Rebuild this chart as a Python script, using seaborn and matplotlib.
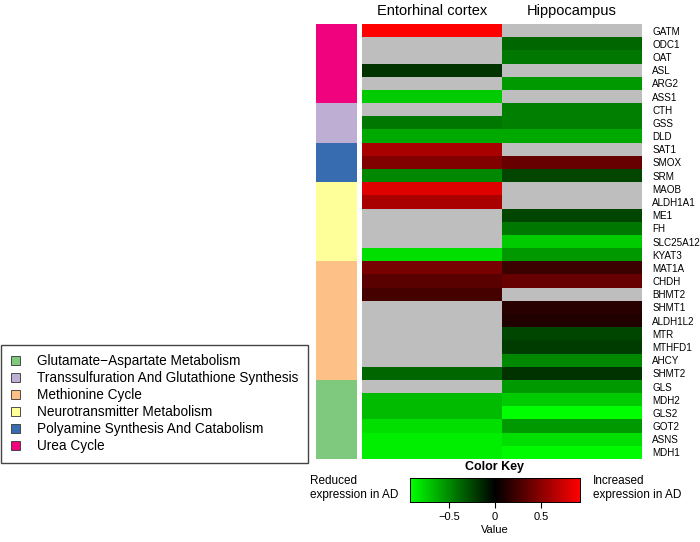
import numpy as np
import pandas as pd
import matplotlib
matplotlib.use('Agg')
import matplotlib.pyplot as plt
from matplotlib.colors import LinearSegmentedColormap, ListedColormap
from matplotlib.patches import Patch
import seaborn as sns

plt.rcParams['font.family'] = ['Liberation Sans', 'DejaVu Sans']

genes = ['GATM', 'ODC1', 'OAT', 'ASL', 'ARG2', 'ASS1', 'CTH', 'GSS', 'DLD',
         'SAT1', 'SMOX', 'SRM', 'MAOB', 'ALDH1A1', 'ME1', 'FH', 'SLC25A12', 'KYAT3',
         'MAT1A', 'CHDH', 'BHMT2', 'SHMT1', 'ALDH1L2', 'MTR', 'MTHFD1', 'AHCY', 'SHMT2',
         'GLS', 'MDH2', 'GLS2', 'GOT2', 'ASNS', 'MDH1']

nan = np.nan
entorhinal = [0.92, nan, nan, -0.18, nan, -0.73, nan, -0.43, -0.61,
              0.61, 0.46, -0.49, 0.80, 0.61, nan, nan, nan, -0.80,
              0.43, 0.32, 0.25, nan, nan, nan, nan, nan, -0.37,
              nan, -0.67, -0.67, -0.80, -0.86, -0.86]
hippocampus = [nan, -0.37, -0.43, nan, -0.55, nan, -0.46, -0.46, -0.61,
               nan, 0.37, -0.25, nan, nan, -0.25, -0.43, -0.73, -0.55,
               0.21, 0.37, nan, 0.15, 0.12, -0.25, -0.21, -0.49, -0.18,
               -0.55, -0.73, -0.92, -0.55, -0.80, -0.90]

pathways = ['Glutamate\u2212Aspartate Metabolism',
            'Transsulfuration And Glutathione Synthesis',
            'Methionine Cycle',
            'Neurotransmitter Metabolism',
            'Polyamine Synthesis And Catabolism',
            'Urea Cycle']
pathway_colors = ['#7FC97F', '#BEAED4', '#FDC086', '#FFFF99', '#386CB0', '#F0027F']
gene_pathway = [5] * 6 + [1] * 3 + [4] * 3 + [3] * 6 + [2] * 9 + [0] * 6

df = pd.DataFrame({'Entorhinal cortex': entorhinal, 'Hippocampus': hippocampus}, index=genes)

cmap = LinearSegmentedColormap.from_list('greenred', ['#00FF00', '#000000', '#FF0000'])

fig = plt.figure(figsize=(7, 5.42), dpi=100)

ax = fig.add_axes([0.517, 0.1531, 0.4, 0.8026])
cax = fig.add_axes([0.5857, 0.0738, 0.2429, 0.0443])
sax = fig.add_axes([0.4514, 0.1531, 0.0586, 0.8026])

ax.set_facecolor('#BEBEBE')
sns.heatmap(df, ax=ax, cmap=cmap, vmin=-0.92, vmax=0.92, cbar_ax=cax,
            cbar_kws={'orientation': 'horizontal', 'ticks': [-0.5, 0, 0.5]})
ax.xaxis.tick_top()
ax.set_xticklabels(df.columns, fontsize=10.5)
ax.tick_params(axis='x', length=0, pad=4)
ax.yaxis.tick_right()
ax.set_yticks(np.arange(len(genes)) + 0.5)
ax.set_yticklabels(genes, rotation=0, fontsize=7.1, ha='left')
ax.tick_params(axis='y', length=0, pad=7.5)

side = pd.DataFrame({'p': gene_pathway}, index=genes)
sns.heatmap(side, ax=sax, cmap=ListedColormap(pathway_colors), vmin=-0.5, vmax=5.5,
            cbar=False, xticklabels=False, yticklabels=False)
sax.set_ylabel('')

cax.tick_params(labelsize=8, length=4)
cax.set_xticklabels(['\u22120.5', '0', '0.5'])
cax.set_xlabel('Value', fontsize=8, labelpad=2)
for s in cax.spines.values():
    s.set_visible(True)
    s.set_linewidth(0.6)
fig.text(0.707, 0.138, 'Color Key', ha='center', va='center', fontsize=9, fontweight='bold')
fig.text(0.443, 0.1, 'Reduced\nexpression in AD', ha='left', va='center', fontsize=8.5)
fig.text(0.847, 0.1, 'Increased\nexpression in AD', ha='left', va='center', fontsize=8.5)

handles = [Patch(facecolor=c, edgecolor='#333333', linewidth=0.6) for c in pathway_colors]
leg = fig.legend(handles, pathways, loc='lower left', bbox_to_anchor=(0.002, 0.146),
                 fontsize=9.8, frameon=True, fancybox=False, framealpha=1,
                 handlelength=0.7, handleheight=0.7, handletextpad=1.2,
                 labelspacing=0.22, borderpad=0.7, borderaxespad=0)
leg.get_frame().set_edgecolor('#444444')
leg.get_frame().set_linewidth(1)

fig.savefig('out.png', dpi=100)
